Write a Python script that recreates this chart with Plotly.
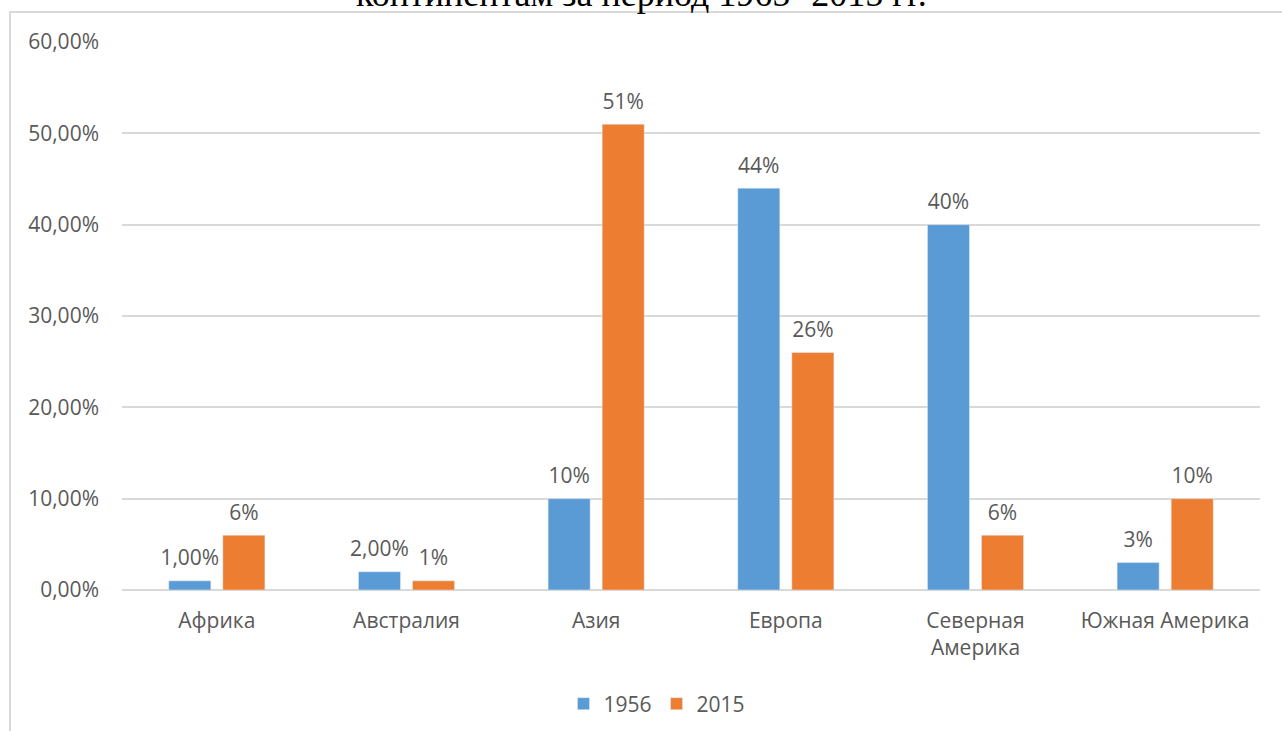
import plotly.graph_objects as go

categories = ["Африка", "Австралия", "Азия", "Европа", "Северная<br>Америка", "Южная Америка"]
values_1956 = [0.01, 0.02, 0.10, 0.44, 0.40, 0.03]
values_2015 = [0.06, 0.01, 0.51, 0.26, 0.06, 0.10]
labels_1956 = ["1,00%", "2,00%", "10%", "44%", "40%", "3%"]
labels_2015 = ["6%", "1%", "51%", "26%", "6%", "10%"]
series_names = ["1956", "2015"]
colors = ["#5B9BD5", "#ED7D31"]
title_text = "континентам за период 1965- 2015 гг."

FONT = "Open Sans"
TXT = "#595959"
GRID = "#d9d9d9"
FS = 21

W, H = 1282, 731
plot_l, plot_r, plot_t, plot_b = 122, 1260, 42, 590
L, R, T, B = plot_l, W - plot_r, plot_t, H - plot_b


def py(img_y):
    return (plot_b - img_y) / (plot_b - plot_t)


def px(img_x):
    return (img_x - plot_l) / (plot_r - plot_l)


fig = go.Figure()
for name, vals, col, grp in [(series_names[0], values_1956, colors[0], "a"),
                             (series_names[1], values_2015, colors[1], "b")]:
    fig.add_trace(go.Bar(x=categories, y=vals, name=name, marker_color=col,
                         offsetgroup=grp, alignmentgroup="g"))
for vals, labs, grp in [(values_1956, labels_1956, "a"), (values_2015, labels_2015, "b")]:
    fig.add_trace(go.Scatter(x=categories, y=vals, text=labs, mode="markers+text",
                             textposition="top center", offsetgroup=grp, alignmentgroup="g",
                             marker=dict(size=15, color="rgba(0,0,0,0)"),
                             textfont=dict(size=FS, color=TXT, family=FONT),
                             showlegend=False, hoverinfo="skip", cliponaxis=False))

fig.update_layout(
    width=W, height=H,
    margin=dict(l=L, r=R, t=T, b=B, pad=0, autoexpand=False),
    paper_bgcolor="white", plot_bgcolor="white",
    separators=", ",
    barmode="group", bargap=0.43, bargroupgap=0.222,
    scattermode="group", scattergap=0.43,
    font=dict(family=FONT, size=FS, color=TXT),
    showlegend=True,
    legend=dict(orientation="h", x=px(657), xanchor="center", y=py(704), yanchor="middle",
                font=dict(size=FS, color=TXT, family=FONT), itemwidth=30, traceorder="normal"),
)
fig.update_yaxes(range=[0, 0.6], dtick=0.1, tickformat=".2%", showgrid=True, gridcolor=GRID,
                 gridwidth=1.5, zeroline=True, zerolinecolor=GRID, zerolinewidth=1.5,
                 showline=False, ticks="", ticklabelstandoff=22, automargin=False,
                 tickfont=dict(size=FS, color=TXT, family=FONT))
fig.update_xaxes(showline=False, ticks="", ticklabelstandoff=16, automargin=False,
                 tickfont=dict(size=FS, color=TXT, family=FONT))

# chart border
fig.add_shape(type="rect", xref="paper", yref="paper",
              x0=px(10), x1=1.2, y0=-1.0, y1=py(12),
              line=dict(color=GRID, width=2), fillcolor="rgba(0,0,0,0)", layer="below")
# partially visible title line above the chart
fig.add_annotation(text=title_text, xref="paper", yref="paper",
                   x=px(641), y=py(16), xanchor="center", yanchor="bottom",
                   showarrow=False, font=dict(family="Liberation Serif", size=36, color="black"))

post = (
    "document.documentElement.style.margin='0';"
    "document.body.style.margin='0';"
    "document.documentElement.style.overflow='hidden';"
    "document.body.style.overflow='hidden';"
    "var gd=document.getElementById('{plot_id}');"
    "gd.style.position='fixed';gd.style.top='0px';gd.style.left='0px';"
)
fig.write_html("out.html", post_script=post, config={"displayModeBar": False})
